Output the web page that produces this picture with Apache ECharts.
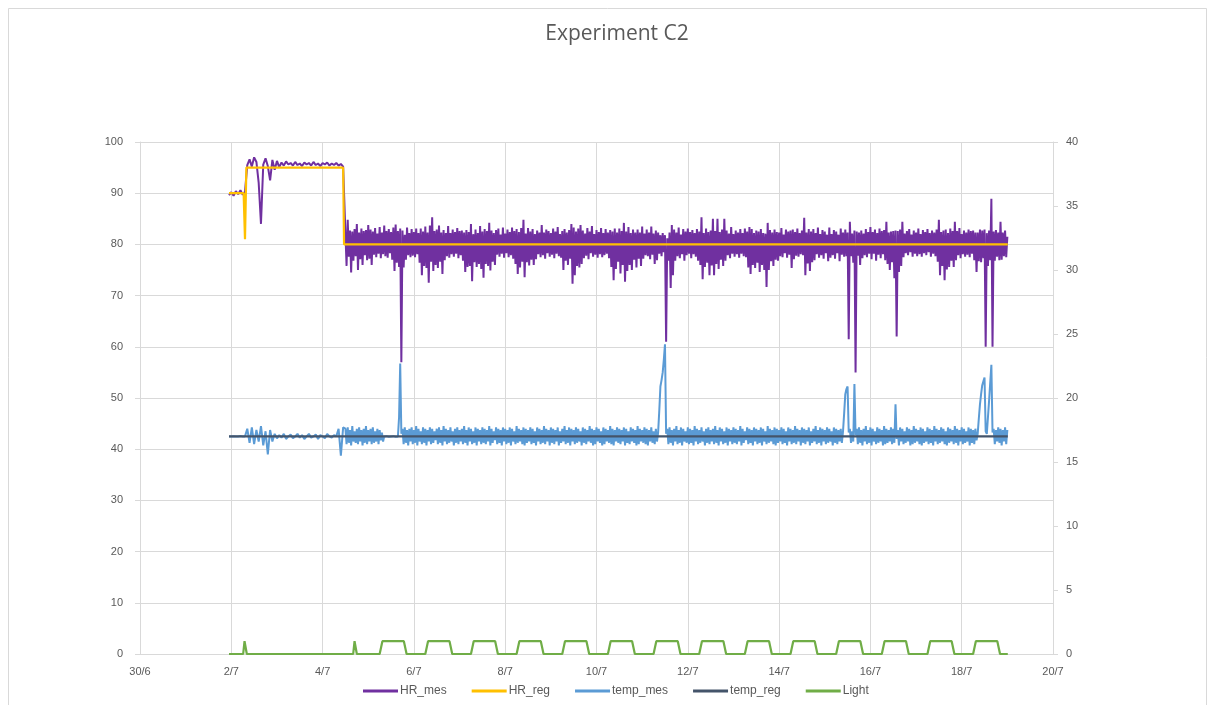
<!DOCTYPE html>
<html>
<head>
<meta charset="utf-8">
<script src="https://cdn.jsdelivr.net/npm/echarts@6/dist/echarts.min.js"></script>
<style>
html,body{margin:0;padding:0;background:#fff;}
#c{width:1215px;height:705px;}
</style>
</head>
<body>
<div id="c"></div>
<script>
// ---- data ----
var titleText = 'Experiment C2';
var seriesNames = ['HR_mes', 'HR_reg', 'temp_mes', 'temp_reg', 'Light'];
// x-axis tick labels (day offset from 30/6)
var xTicks = {0:'30/6',2:'2/7',4:'4/7',6:'6/7',8:'8/7',10:'10/7',12:'12/7',14:'14/7',16:'16/7',18:'18/7',20:'20/7'};

// sampling of the measured series (day offset from 30/6)
var earlyStart = 1.95, earlyStep = 0.05;   // 1.95 .. 4.45
var mainStart = 4.50, mainStep = 0.025;    // 4.50 .. 19.00

// HR_mes (%), left axis — start-up phase
var hrMesEarly = [
89.6,90.2,89.5,90.4,89.8,90.6,89.7,90.3,95.5,96.6,
95.2,97.0,96.1,92.0,84.0,95.6,96.8,95.3,92.5,96.5,
94.6,96.3,95.1,96.0,95.4,96.2,95.6,95.9,95.4,96.1,
95.5,95.8,95.3,96.0,95.6,95.9,95.4,96.1,95.5,95.8,
95.3,95.9,95.6,96.0,95.4,95.8,95.5,95.9,95.4,95.7,
95.2
];
// HR_mes (%), left axis — regulated at 80 %
var hrMesMain = [
82.2,75.8,84.8,77.6,82.7,74.5,82.5,76.8,83.0,77.7,84.0,75.0,82.3,77.1,83.1,76.0,82.6,77.9,82.8,76.9,
83.8,77.2,82.9,76.0,82.5,78.0,83.2,77.5,82.1,78.2,83.4,77.3,82.3,78.1,83.7,77.7,82.6,77.4,83.0,78.3,
82.4,77.0,83.3,74.8,83.9,76.4,82.6,75.6,83.1,57.0,82.7,75.5,81.9,77.0,83.3,77.9,82.2,77.5,83.0,77.8,
82.4,77.5,83.1,78.1,82.2,76.4,83.1,74.0,82.5,75.8,83.5,75.4,82.3,72.5,83.7,76.6,85.3,74.8,82.6,76.0,
82.9,75.4,83.7,76.6,82.3,74.2,82.8,76.9,82.2,77.7,83.6,77.4,82.2,78.1,82.9,77.6,82.4,78.2,83.2,77.3,
82.6,77.9,82.7,76.8,82.3,74.6,82.8,75.6,82.4,75.8,84.0,72.8,82.0,76.5,82.9,75.6,82.2,76.2,83.6,75.2,
82.5,73.5,83.0,76.2,82.6,75.8,84.2,74.9,82.7,76.6,82.2,76.0,82.8,78.0,83.1,77.6,81.9,78.2,83.3,77.4,
82.1,78.3,82.9,77.5,82.4,77.9,83.3,77.2,82.6,76.2,83.0,74.2,82.4,75.5,83.2,76.6,84.8,73.6,82.1,76.5,
83.2,75.9,82.5,77.0,83.0,76.0,82.0,77.1,82.7,78.1,82.3,77.5,83.8,77.9,82.3,77.2,82.9,78.3,82.6,77.6,
82.2,78.0,83.1,77.3,82.5,78.2,83.4,77.7,82.0,77.4,82.6,75.0,83.0,76.8,82.3,76.0,82.8,77.2,84.0,72.3,
83.3,74.0,82.5,75.8,83.1,75.5,83.8,76.2,82.7,77.3,82.1,77.8,83.2,77.1,82.5,78.3,83.6,77.6,82.0,78.0,
82.8,77.4,82.4,78.1,83.2,77.5,82.2,77.9,83.0,78.2,82.3,77.3,82.8,75.6,82.5,73.0,83.1,75.2,82.3,76.6,
83.1,74.3,82.6,76.0,84.2,72.7,82.5,74.8,83.4,76.0,82.2,75.0,82.9,77.0,82.3,75.5,82.9,77.2,82.3,75.8,
83.5,77.2,82.1,77.9,82.9,77.7,82.3,77.1,83.5,78.0,82.1,76.2,82.7,76.9,82.3,78.2,81.8,77.7,82.2,78.5,
81.8,61.0,81.2,76.8,82.3,71.5,83.8,74.0,82.9,76.8,82.3,77.7,83.3,77.3,81.9,78.1,83.0,76.8,82.5,77.9,
83.1,78.2,82.4,77.3,82.8,78.1,82.2,77.6,83.0,76.8,82.5,76.0,85.3,73.2,82.2,75.6,83.1,76.4,82.4,74.0,
82.7,75.9,85.0,74.0,82.6,76.2,85.0,75.2,82.4,77.0,82.9,75.8,85.0,76.8,82.7,77.9,82.1,77.3,83.4,78.2,
82.0,77.6,82.7,78.1,82.3,77.4,83.0,78.2,82.2,77.7,83.1,77.5,82.5,75.5,83.4,74.2,83.0,76.0,82.2,75.4,
82.7,76.4,82.5,74.6,83.0,76.0,82.2,75.0,82.1,71.7,84.2,75.0,82.8,76.7,82.3,75.8,82.9,77.0,82.4,76.8,
82.3,77.7,83.2,77.5,81.9,78.3,82.9,77.4,82.5,78.0,82.7,75.4,82.9,77.1,82.4,77.8,83.1,77.6,82.2,78.1,
82.7,77.9,85.2,74.0,82.3,76.3,83.0,74.8,82.5,76.5,83.0,76.9,82.2,78.1,83.3,77.4,82.0,77.9,82.8,77.2,
82.5,78.3,81.9,76.7,83.3,77.4,82.0,77.9,82.8,77.2,82.5,78.3,81.9,76.7,83.1,78.0,82.3,77.6,82.9,77.7,
82.3,61.5,84.4,77.7,82.1,76.4,82.7,55.0,82.5,77.8,82.3,76.0,82.7,77.3,82.1,77.9,83.0,77.5,82.4,78.2,
83.4,77.1,82.4,78.2,82.9,76.8,82.2,78.0,83.1,77.3,82.6,78.1,82.8,76.9,84.4,76.2,82.3,75.0,82.5,76.5,
82.6,73.4,82.7,62.0,82.6,74.6,82.9,75.8,84.4,77.5,82.1,78.3,82.6,77.9,83.0,78.5,81.9,77.6,82.7,78.2,
82.3,77.7,83.1,78.1,82.0,77.6,82.8,78.3,82.4,77.9,83.0,78.5,82.2,77.6,82.7,78.2,82.3,77.7,82.9,76.6,
84.8,74.0,82.4,75.8,82.7,73.0,82.9,75.1,82.2,75.6,83.1,76.8,82.6,75.6,84.4,76.9,82.6,77.9,83.2,77.3,
82.0,78.1,82.7,77.6,82.3,78.0,82.9,77.5,82.6,78.2,82.7,76.9,82.3,74.6,82.3,76.7,82.9,76.5,82.7,77.3,
82.9,60.0,82.2,75.8,82.7,76.9,88.9,60.0,82.5,76.8,82.8,77.6,82.3,76.9,84.4,77.0,82.3,77.7,82.7,77.5,
81.5
];

// temp_mes (°C), right axis — start-up phase
var tempMesEarly = [
17.0,17.0,17.02,17.0,17.0,17.03,17.0,17.0,
17.6,16.5,17.7,16.4,17.5,16.6,17.8,16.3,17.4,15.6,17.5,16.6,
17.2,16.85,17.1,16.9,17.2,16.8,17.0,17.15,16.85,17.0,17.2,16.9,17.1,16.8,
17.0,17.2,16.9,17.0,17.15,16.8,17.1,17.0,16.85,17.2,17.0,16.9,17.1,17.0,
17.6,15.5,17.7
];
// temp_mes (°C), right axis — main phase
var tempMesMain = [
17.6,16.4,17.7,16.5,17.5,16.3,17.8,16.6,17.4,16.5,17.6,16.4,17.7,16.6,17.5,16.3,17.6,16.5,17.8,16.4,
17.5,16.6,17.6,16.4,17.7,16.5,17.4,16.6,17.6,16.4,17.5,16.7,17.3,16.6,17.0,16.98,17.02,17.0,16.97,17.03,
17.0,16.98,17.02,17.0,16.97,17.03,17.0,18.5,22.7,17.2,17.6,16.4,17.7,16.5,17.5,16.3,17.6,16.6,17.7,16.4,
17.5,16.5,17.8,16.3,17.6,16.6,17.4,16.4,17.7,16.5,17.6,16.3,17.5,16.6,17.7,16.4,17.6,16.5,17.4,16.7,
17.6,16.4,17.7,16.5,17.5,16.3,17.8,16.6,17.6,16.4,17.5,16.5,17.7,16.6,17.4,16.3,17.6,16.5,17.7,16.4,
17.5,16.6,17.6,16.4,17.8,16.5,17.5,16.3,17.7,16.6,17.6,16.4,17.4,16.5,17.7,16.3,17.6,16.6,17.5,16.4,
17.7,16.5,17.6,16.4,17.5,16.6,17.8,16.3,17.6,16.5,17.4,16.7,17.7,16.4,17.6,16.5,17.5,16.3,17.7,16.6,
17.6,16.4,17.5,16.5,17.7,16.3,17.6,16.6,17.4,16.4,17.8,16.5,17.6,16.6,17.5,16.4,17.7,16.3,17.6,16.5,
17.5,16.6,17.7,16.4,17.6,16.5,17.4,16.3,17.7,16.6,17.6,16.4,17.5,16.5,17.8,16.4,17.6,16.6,17.5,16.3,
17.7,16.5,17.6,16.4,17.5,16.6,17.7,16.3,17.4,16.5,17.6,16.6,17.8,16.4,17.5,16.5,17.7,16.3,17.6,16.6,
17.5,16.4,17.7,16.5,17.6,16.6,17.4,16.3,17.7,16.5,17.6,16.4,17.5,16.6,17.8,16.5,17.6,16.3,17.5,16.4,
17.7,16.6,17.6,16.5,17.4,16.3,17.7,16.4,17.6,16.6,17.5,16.5,17.8,16.4,17.6,16.3,17.5,16.6,17.7,16.5,
17.6,16.4,17.5,16.6,17.7,16.3,17.6,16.5,17.4,16.4,17.7,16.6,17.6,16.5,17.5,16.3,17.8,16.4,17.6,16.6,
17.5,16.5,17.7,16.4,17.6,16.3,17.5,16.6,17.7,16.5,17.4,16.4,17.6,16.6,17.3,19.0,20.9,21.4,22.0,23.0,
24.2,17.2,17.6,16.4,17.7,16.5,17.5,16.3,17.6,16.6,17.8,16.4,17.5,16.5,17.7,16.3,17.6,16.6,17.4,16.5,
17.7,16.4,17.6,16.5,17.5,16.3,17.8,16.6,17.6,16.4,17.5,16.5,17.7,16.6,17.4,16.3,17.6,16.5,17.7,16.4,
17.5,16.6,17.6,16.4,17.8,16.5,17.5,16.3,17.7,16.6,17.6,16.4,17.4,16.5,17.7,16.3,17.6,16.6,17.5,16.4,
17.7,16.5,17.6,16.4,17.5,16.6,17.8,16.3,17.6,16.5,17.4,16.7,17.7,16.4,17.6,16.5,17.5,16.3,17.7,16.6,
17.6,16.4,17.5,16.5,17.7,16.3,17.6,16.6,17.4,16.4,17.8,16.5,17.6,16.6,17.5,16.4,17.7,16.3,17.6,16.5,
17.5,16.6,17.7,16.4,17.6,16.5,17.4,16.3,17.7,16.6,17.6,16.4,17.5,16.5,17.8,16.4,17.6,16.6,17.5,16.3,
17.7,16.5,17.6,16.4,17.5,16.6,17.7,16.3,17.4,16.5,17.6,16.6,17.8,16.4,17.5,16.5,17.7,16.3,17.6,16.6,
17.5,16.4,17.7,16.5,17.6,16.6,17.4,16.3,17.7,16.5,17.6,16.4,17.5,16.6,17.6,16.5,17.4,18.8,20.3,20.7,
20.9,17.3,17.6,16.5,17.4,16.6,21.1,17.1,17.6,16.4,17.7,16.5,17.5,16.3,17.6,16.6,17.8,16.4,17.5,16.5,
17.7,16.3,17.6,16.6,17.4,16.4,17.7,16.5,17.6,16.6,17.5,16.3,17.8,16.4,17.6,16.5,17.5,16.6,17.7,16.4,
17.6,16.5,19.5,16.8,17.5,16.3,17.7,16.6,17.6,16.4,17.4,16.5,17.7,16.6,17.6,16.3,17.5,16.4,17.8,16.5,
17.6,16.6,17.5,16.4,17.7,16.3,17.6,16.5,17.4,16.6,17.7,16.4,17.6,16.5,17.5,16.3,17.8,16.6,17.6,16.4,
17.5,16.5,17.7,16.6,17.6,16.4,17.4,16.3,17.7,16.5,17.6,16.6,17.5,16.4,17.8,16.5,17.6,16.3,17.5,16.6,
17.7,16.4,17.6,16.5,17.4,16.6,17.7,16.3,17.6,16.5,17.5,16.4,17.6,16.7,17.2,18.4,19.5,20.3,21.0,21.3,
21.6,17.4,17.2,18.5,19.8,21.2,22.6,17.3,17.6,16.4,17.5,16.6,17.7,16.5,17.6,16.3,17.5,16.6,17.7,16.4,
17.5
];

// HR_reg (%) set-point changes [day, value]
var hrReg = [[1.95,90],[2.27,90],[2.30,81],[2.33,95],[4.45,95],[4.47,80],[19.01,80]];
// temp_reg (°C) set-point [day, value]
var tempReg = [[1.95,17],[19.01,17]];
// Light (on/off) [day, value]
var light = [
[1.95,0],[2.26,0],[2.29,1],[2.31,1],[2.34,0],
[4.67,0],[4.70,1],[4.72,1],[4.75,0],
[5.25,0],[5.31,1],[5.78,1],[5.84,0],
[6.25,0],[6.31,1],[6.78,1],[6.84,0],
[7.25,0],[7.31,1],[7.78,1],[7.84,0],
[8.25,0],[8.31,1],[8.78,1],[8.84,0],
[9.25,0],[9.31,1],[9.78,1],[9.84,0],
[10.25,0],[10.31,1],[10.78,1],[10.84,0],
[11.25,0],[11.31,1],[11.78,1],[11.84,0],
[12.25,0],[12.31,1],[12.78,1],[12.84,0],
[13.25,0],[13.31,1],[13.78,1],[13.84,0],
[14.25,0],[14.31,1],[14.78,1],[14.84,0],
[15.25,0],[15.31,1],[15.78,1],[15.84,0],
[16.25,0],[16.31,1],[16.78,1],[16.84,0],
[17.25,0],[17.31,1],[17.78,1],[17.84,0],
[18.25,0],[18.31,1],[18.78,1],[18.84,0],
[19.01,0]
];

// ---- chart ----
function sampled(arr, t0, dt){ return arr.map(function(v,i){ return [t0 + i*dt, v]; }); }
var hrMesData = sampled(hrMesEarly, earlyStart, earlyStep).concat(sampled(hrMesMain, mainStart, mainStep));
var tempMesData = sampled(tempMesEarly, earlyStart, earlyStep).concat(sampled(tempMesMain, mainStart, mainStep));

var FONT = 'Liberation Sans';
var TXT = '#595959';
var GRID = '#d9d9d9';
var chart = echarts.init(document.getElementById('c'), null, {renderer:'canvas'});
chart.setOption({
  animation:false,
  backgroundColor:'#ffffff',
  textStyle:{fontFamily:FONT},
  title:{text:titleText,left:612,textAlign:'center',top:19,textStyle:{fontSize:21,fontWeight:'normal',color:TXT,fontFamily:'Open Sans'}},
  graphic:[{type:'rect',shape:{x:8.5,y:8.5,width:1198,height:720},style:{fill:'none',stroke:GRID,lineWidth:1},silent:true}],
  legend:{
    data:seriesNames, bottom:3, left:358, icon:'rect', itemWidth:35, itemHeight:3, itemGap:25,
    textStyle:{fontSize:12,color:TXT,fontFamily:FONT,padding:[0,0,0,-3]}
  },
  grid:{left:140,right:162,top:142,bottom:51,containLabel:false},
  xAxis:{type:'value',min:0,max:20,interval:2,
    axisLine:{show:true,lineStyle:{color:GRID}},
    axisTick:{show:false},
    splitLine:{show:true,lineStyle:{color:GRID,width:1}},
    axisLabel:{color:TXT,fontSize:11,margin:12,fontFamily:FONT,formatter:function(v){return xTicks[v]||'';}}
  },
  yAxis:[
    {type:'value',min:0,max:100,interval:10,position:'left',
      axisLine:{show:true,lineStyle:{color:GRID}},
      axisTick:{show:true,length:5,lineStyle:{color:GRID}},
      splitLine:{show:true,lineStyle:{color:GRID,width:1}},
      axisLabel:{color:TXT,fontSize:11,margin:17,fontFamily:FONT}},
    {type:'value',min:0,max:40,interval:5,position:'right',
      axisLine:{show:true,lineStyle:{color:GRID}},
      axisTick:{show:true,length:5,lineStyle:{color:GRID}},
      splitLine:{show:false},
      axisLabel:{color:TXT,fontSize:11,margin:13,fontFamily:FONT}}
  ],
  series:[
    {name:'HR_mes',type:'line',yAxisIndex:0,showSymbol:false,symbol:'none',data:hrMesData,
      lineStyle:{color:'#7030a0',width:2},itemStyle:{color:'#7030a0'}},
    {name:'HR_reg',type:'line',yAxisIndex:0,showSymbol:false,symbol:'none',data:hrReg,
      lineStyle:{color:'#ffc000',width:2.2},itemStyle:{color:'#ffc000'}},
    {name:'temp_mes',type:'line',yAxisIndex:1,showSymbol:false,symbol:'none',data:tempMesData,
      lineStyle:{color:'#5b9bd5',width:2},itemStyle:{color:'#5b9bd5'}},
    {name:'temp_reg',type:'line',yAxisIndex:1,showSymbol:false,symbol:'none',data:tempReg,
      lineStyle:{color:'#44546a',width:2.2},itemStyle:{color:'#44546a'}},
    {name:'Light',type:'line',yAxisIndex:1,showSymbol:false,symbol:'none',data:light,
      lineStyle:{color:'#70ad47',width:2.2},itemStyle:{color:'#70ad47'}}
  ]
});
</script>
</body>
</html>
